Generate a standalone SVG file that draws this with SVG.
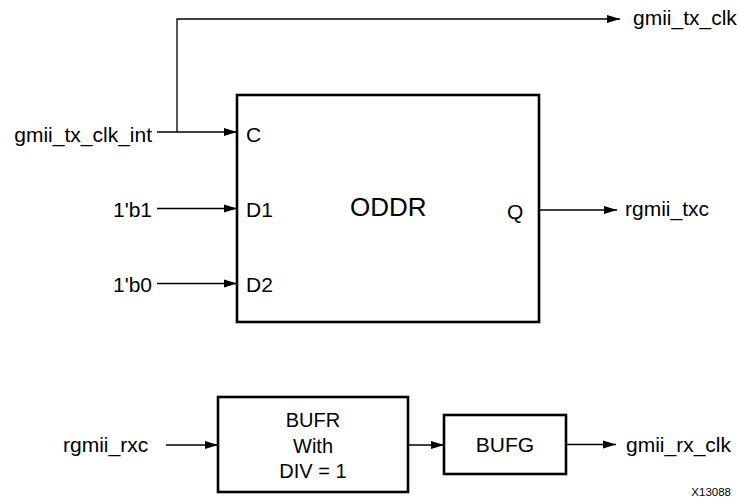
<svg xmlns="http://www.w3.org/2000/svg" width="740" height="497" viewBox="0 0 740 497">
<defs>
<marker id="arr" markerUnits="userSpaceOnUse" markerWidth="14" markerHeight="10" refX="13" refY="5" orient="auto">
<path d="M0,1 L13,5 L0,9 Z" fill="#000"/>
</marker>
<style>
text{font-family:"Liberation Sans",Arial,sans-serif;font-size:21px;fill:#000}
.big{font-size:26px}
.mid{font-size:20px}
.small{font-size:11.5px}
.box{fill:#fff;stroke:#000;stroke-width:2.6}
.wire{fill:none;stroke:#000;stroke-width:1.3}
.a{marker-end:url(#arr)}
</style>
</defs>
<rect width="740" height="497" fill="#fff"/>
<g id="connectors">
<path class="wire" d="M177,132 V19 H620" marker-end="url(#arr)"/>
<path class="wire a" d="M157,132 H237"/>
<path class="wire a" d="M157,208.5 H237"/>
<path class="wire a" d="M157,283.5 H237"/>
<path class="wire a" d="M539,210 H617"/>
<path class="wire a" d="M166,445 H218"/>
<path class="wire a" d="M408,445 H444"/>
<path class="wire a" d="M566,444.5 H616"/>
</g>
<g id="labels">
<text x="152" y="142" text-anchor="end">gmii_tx_clk_int</text>
<text x="152" y="217" text-anchor="end">1'b1</text>
<text x="152" y="292" text-anchor="end">1'b0</text>
<text x="633" y="25">gmii_tx_clk</text>
<text x="625" y="216">rgmii_txc</text>
<text x="63" y="452">rgmii_rxc</text>
<text x="626" y="452">gmii_rx_clk</text>
<text class="small" x="731" y="496" text-anchor="end">X13088</text>
</g>
<g id="oddr">
<rect class="box" x="237" y="95" width="302" height="227"/>
<text x="246" y="142">C</text>
<text x="246" y="217">D1</text>
<text x="246" y="292">D2</text>
<text x="507" y="219">Q</text>
<text class="big" x="350" y="216">ODDR</text>
</g>
<g id="bufr">
<rect class="box" x="218" y="397" width="190" height="95"/>
<text class="mid" x="313" y="427" text-anchor="middle">BUFR</text>
<text class="mid" x="313" y="453" text-anchor="middle">With</text>
<text class="mid" x="313" y="478" text-anchor="middle">DIV = 1</text>
</g>
<g id="bufg">
<rect class="box" x="444" y="415" width="122" height="59"/>
<text x="505" y="452" text-anchor="middle">BUFG</text>
</g>
</svg>
